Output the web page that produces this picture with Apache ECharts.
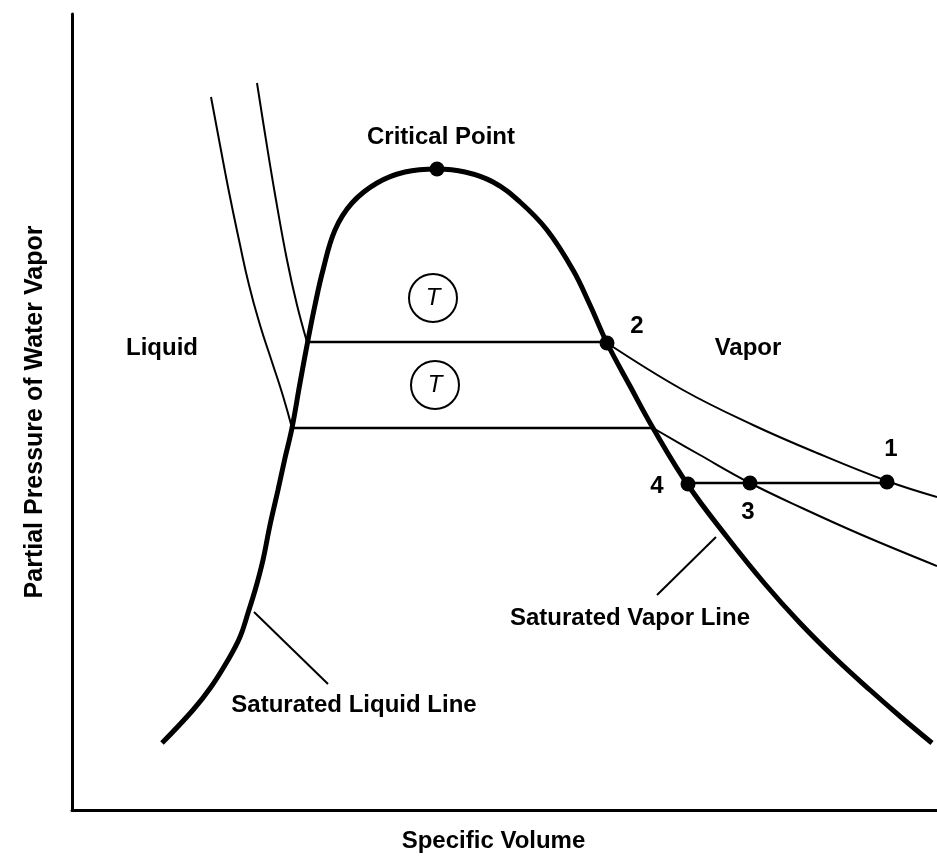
<!DOCTYPE html>
<html>
<head>
<meta charset="utf-8">
<script src="https://cdn.jsdelivr.net/npm/echarts@6/dist/echarts.min.js"></script>
<style>
  html, body { margin: 0; padding: 0; background: #fff; }
  #chart { width: 937px; height: 859px; }
</style>
</head>
<body>
<div id="chart"></div>
<script>
// saturation dome (liquid line + vapor line), [specific volume, pressure]
const domeLine = [
    [90, 67], [121, 100], [139, 123], [156, 150], [168, 173], [176, 197],
    [184, 223], [191, 250], [198, 285], [206, 320], [213, 352], [220, 382],
    [228, 427], [236, 470], [243, 505], [251, 540], [263, 580], [280, 607],
    [305, 627], [333, 638], [365, 641], [393, 638], [421, 628], [448, 608],
    [475, 580], [501, 540], [518, 505], [535, 467], [558, 424], [581, 382],
    [616, 325], [655, 273], [693, 226], [728, 187], [763, 152], [798, 120],
    [830, 92], [860, 67]
];
// upper isotherm
const upperLeft = [[185, 727], [194, 670], [204, 610], [215, 550], [225, 505], [235, 468]];
const upperTie = [[235, 468], [535, 468]];
const upperRight = [[535, 467], [611, 420], [681, 385], [745, 357], [815, 329], [865, 313]];
// lower isotherm
const lowerLeft = [[139, 713], [148, 665], [157, 618], [167, 570], [177, 525],
    [188, 485], [200, 448], [211, 414], [220, 382]];
const lowerTie = [[220, 382], [581, 382]];
const lowerRight = [[581, 382], [628, 355], [678, 327], [730, 302], [790, 275], [865, 244]];
// process line 4 - 3 - 1
const processLine = [[616, 327], [678, 327], [815, 327]];
// marked states: critical point, 2, 4, 3, 1
const statePoints = [[365, 641], [535, 467], [616, 326], [678, 327], [815, 328]];
// circled T on each isotherm
const tempMarks = [[361, 512], [363, 425]];
// leader lines
const vaporLeader = [[585, 215], [644, 273]];
const liquidLeader = [[182, 198], [256, 126]];
// text labels
const labelNames = ['Critical Point', 'Liquid', 'Vapor', '2', '1', '4', '3',
    'Saturated Vapor Line', 'Saturated Liquid Line'];
const labelPos = [[369, 673], [90, 462], [676, 462], [565, 484], [819, 361],
    [585, 324], [676, 298], [558, 192], [282, 105]];

const font = 'Liberation Sans, Arial, sans-serif';

function curve(data, width, smooth) {
    return {
        type: 'line',
        data: data,
        smooth: smooth,
        symbol: 'none',
        lineStyle: { color: '#000', width: width, opacity: 1 },
        silent: true
    };
}

let myChart = echarts.init(document.getElementById('chart'));
let option = {
    animation: false,
    backgroundColor: '#fff',
    grid: { left: 72, right: 0, top: 14, bottom: 49 },
    xAxis: {
        type: 'value',
        min: 0,
        max: 865,
        name: 'Specific Volume',
        nameLocation: 'middle',
        nameGap: 19,
        nameTextStyle: { color: '#000', fontSize: 24, fontWeight: 'bold', fontFamily: font, padding: [0, 22, 0, 0] },
        axisLine: { lineStyle: { color: '#000', width: 3 } },
        axisTick: { show: false },
        axisLabel: { show: false },
        splitLine: { show: false }
    },
    yAxis: {
        type: 'value',
        min: 0,
        max: 796,
        name: 'Partial Pressure of Water Vapor',
        nameLocation: 'middle',
        nameGap: 24,
        nameTextStyle: { color: '#000', fontSize: 25, fontWeight: 'bold', fontFamily: font },
        axisLine: { show: true, lineStyle: { color: '#000', width: 3 } },
        axisTick: { show: false },
        axisLabel: { show: false },
        splitLine: { show: false }
    },
    series: [
        curve(domeLine, 5, 0.4),
        curve(upperLeft, 2, 0.4),
        curve(upperTie, 2.5, false),
        curve(upperRight, 2, 0.4),
        curve(lowerLeft, 2, 0.5),
        curve(lowerTie, 2.5, false),
        curve(lowerRight, 2, 0.4),
        curve(processLine, 2.5, false),
        curve(vaporLeader, 2, false),
        curve(liquidLeader, 2, false),
        {
            type: 'scatter',
            data: statePoints,
            symbolSize: 15,
            itemStyle: { color: '#000', opacity: 1 },
            silent: true
        },
        {
            type: 'scatter',
            data: tempMarks,
            symbolSize: 48,
            itemStyle: { color: '#fff', borderColor: '#000', borderWidth: 2, opacity: 1 },
            label: {
                show: true,
                position: 'inside',
                formatter: 'T',
                color: '#000',
                fontSize: 24,
                fontStyle: 'italic',
                fontFamily: font
            },
            silent: true
        },
        {
            type: 'scatter',
            data: labelPos.map((p, i) => ({ value: p, name: labelNames[i] })),
            symbolSize: 0,
            itemStyle: { opacity: 1 },
            label: {
                show: true,
                position: 'inside',
                formatter: '{b}',
                color: '#000',
                fontSize: 24,
                fontWeight: 'bold',
                fontFamily: font
            },
            silent: true
        }
    ]
};
myChart.setOption(option);
</script>
</body>
</html>
